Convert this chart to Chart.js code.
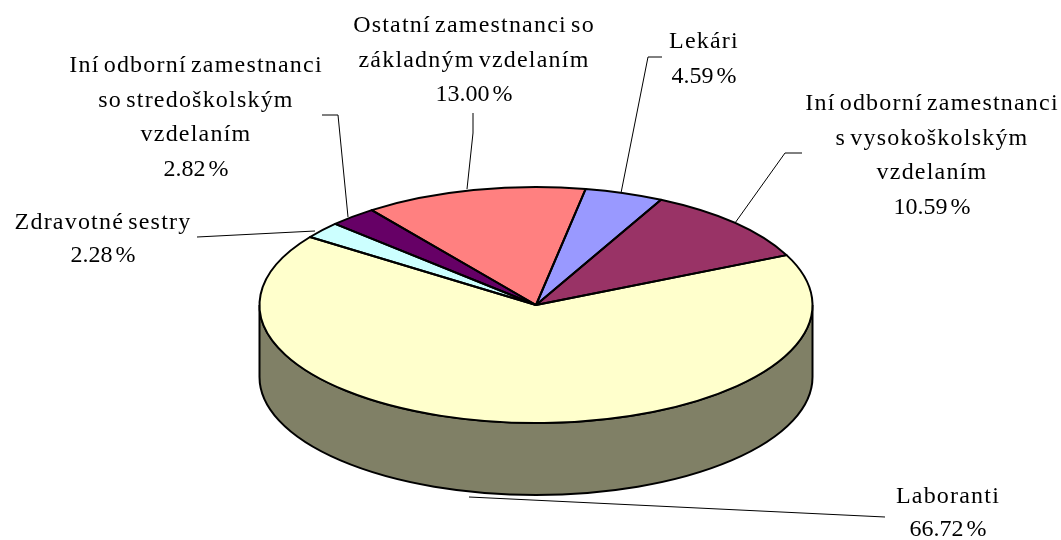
<!DOCTYPE html>
<html>
<head>
<meta charset="utf-8">
<script src="https://cdn.jsdelivr.net/npm/chart.js@4"></script>
<style>
    html, body { margin: 0; padding: 0; background: #fff; }
    canvas { display: block; }
</style>
</head>
<body>
<canvas id="chartZamestnanci" width="1061" height="540"></canvas>
<script>
// DATA
const categories = [
    ['Laboranti'],
    ['Zdravotné sestry'],
    ['Iní odborní zamestnanci', 'so stredoškolským', 'vzdelaním'],
    ['Ostatní zamestnanci so', 'základným vzdelaním'],
    ['Lekári'],
    ['Iní odborní zamestnanci', 's vysokoškolským', 'vzdelaním']
];
const values = [66.72, 2.28, 2.82, 13.00, 4.59, 10.59];
const colors = ['#FFFFCC', '#CCFFFF', '#660066', '#FF8080', '#9999FF', '#993366'];

// vzhľad koláča (elipsa + hrúbka)
const pie = { cx: 536, cy: 305, rx: 276.5, ry: 118, depth: 72, wall: '#808066' };
const startDeg = 65;

// popisky: stred x, baseline prvého riadku, riadkovanie, vodiaca čiara
const labelBoxes = [
    { x: 948, y: 503, lh: 33, line: [[885, 517], [469, 497]] },
    { x: 103, y: 229, lh: 33, line: [[197, 237], [315, 231]] },
    { x: 196, y: 72, lh: 34.5, line: [[322, 115], [338, 115], [348, 217]] },
    { x: 474, y: 32, lh: 34.5, line: [[473, 113], [473, 133], [467, 189]] },
    { x: 704, y: 48, lh: 35, line: [[662, 57], [648, 57], [621, 193]] },
    { x: 932, y: 110, lh: 34.5, line: [[802, 153], [785, 153], [735, 223]] }
];

// stena koláča pod datasetom, samotné výseky sa kreslia cez transformáciu
const pie3d = {
    id: 'pie3d',
    beforeDatasetsDraw(chart) {
        const ctx = chart.ctx;
        const arc = chart.getDatasetMeta(0).data[0];

        ctx.save();
        ctx.beginPath();
        ctx.ellipse(pie.cx, pie.cy, pie.rx, pie.ry, 0, 0, Math.PI);
        ctx.ellipse(pie.cx, pie.cy + pie.depth, pie.rx, pie.ry, 0, Math.PI, 0, true);
        ctx.closePath();
        ctx.fillStyle = pie.wall;
        ctx.fill();
        ctx.lineWidth = 2;
        ctx.strokeStyle = '#000';
        ctx.stroke();
        ctx.restore();

        ctx.save();
        ctx.translate(pie.cx, pie.cy);
        ctx.scale(pie.rx / arc.outerRadius, pie.ry / arc.outerRadius);
        ctx.translate(-arc.x, -arc.y);
    },
    afterDatasetsDraw(chart) {
        const ctx = chart.ctx;
        ctx.restore();

        // obrys výsekov až po transformácii, aby mala čiara rovnakú hrúbku
        ctx.save();
        ctx.lineWidth = 2;
        ctx.strokeStyle = '#000';
        ctx.lineJoin = 'round';
        chart.getDatasetMeta(0).data.forEach(arc => {
            ctx.beginPath();
            ctx.moveTo(pie.cx, pie.cy);
            ctx.ellipse(pie.cx, pie.cy, pie.rx, pie.ry, 0, arc.startAngle, arc.endAngle);
            ctx.closePath();
            ctx.stroke();
        });
        ctx.restore();

        // vodiace čiary a texty
        ctx.save();
        ctx.lineWidth = 1;
        ctx.strokeStyle = '#000';
        ctx.fillStyle = '#000';
        ctx.font = '24px "Liberation Serif"';
        ctx.textAlign = 'center';
        ctx.textBaseline = 'alphabetic';
        labelBoxes.forEach((box, i) => {
            ctx.beginPath();
            box.line.forEach((p, j) => j ? ctx.lineTo(p[0], p[1]) : ctx.moveTo(p[0], p[1]));
            ctx.stroke();

            ctx.letterSpacing = '1.2px';
            ctx.wordSpacing = '-3px';
            categories[i].forEach((t, j) => ctx.fillText(t, box.x, box.y + j * box.lh));

            ctx.letterSpacing = '0px';
            ctx.wordSpacing = '-3px';
            ctx.fillText(values[i].toFixed(2) + ' %', box.x, box.y + categories[i].length * box.lh);
        });
        ctx.restore();
    }
};

new Chart(document.getElementById('chartZamestnanci'), {
    type: 'pie',
    data: {
        labels: categories.map(c => c.join(' ')),
        datasets: [{
            data: values,
            backgroundColor: colors,
            borderWidth: 0
        }]
    },
    options: {
        responsive: false,
        animation: false,
        rotation: startDeg,
        layout: { padding: 0 },
        plugins: {
            legend: { display: false },
            tooltip: { enabled: false }
        }
    },
    plugins: [pie3d]
});
</script>
</body>
</html>
